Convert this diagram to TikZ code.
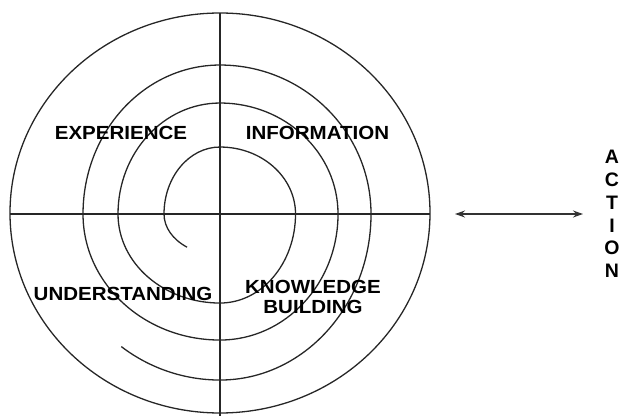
\documentclass[tikz,border=0pt]{standalone}
\usepackage{fontspec}
\setmainfont{Liberation Sans}
\usetikzlibrary{arrows.meta}
\begin{document}
\begin{tikzpicture}[x=1pt,y=1pt,
  ln/.style={draw=black!85, line width=1.3pt},
  lbl/.style={font=\fontsize{19}{20}\selectfont\bfseries, text=black, inner sep=0pt},
  dbl/.style={draw=black!80, line width=1.4pt, {Stealth[length=10pt,width=7pt]}-{Stealth[length=10pt,width=7pt]}}]
\useasboundingbox (-220,-201) rectangle (403,214);
% outer circle and axes
\draw[ln] (0,1) ellipse [x radius=210, y radius=200];
\coordinate (L) at (-210,0);
\coordinate (R) at (210,0);
\coordinate (T) at (0,201);
\coordinate (B) at (0,-205);
\draw[ln] (L) -- (R);
\draw[ln] (T) -- (B);
% spiral
\coordinate (s0) at (-32.9,-33.2);
\draw[ln] (s0)
  arc[start angle=234, end angle=180, x radius=56, y radius=41]
  arc[start angle=180, end angle=90, x radius=56, y radius=67]
  arc[start angle=90, end angle=0, x radius=75.5, y radius=67]
  arc[start angle=0, end angle=-90, x radius=75.5, y radius=89]
  arc[start angle=-90, end angle=-180, x radius=102, y radius=89]
  arc[start angle=180, end angle=90, x radius=102, y radius=111]
  arc[start angle=90, end angle=0, x radius=118, y radius=111]
  arc[start angle=0, end angle=-90, x radius=118, y radius=126]
  arc[start angle=-90, end angle=-180, x radius=137, y radius=126]
  arc[start angle=180, end angle=90, x radius=137, y radius=149]
  arc[start angle=90, end angle=0, x radius=151, y radius=149]
  arc[start angle=0, end angle=-90, x radius=151, y radius=166]
  arc[start angle=-90, end angle=-127, x radius=164, y radius=166];
% labels
\node[lbl] (exp) at (-99,81) {\scalebox{1.08}[1]{EXPERIENCE}};
\node[lbl] (inf) at (97.5,81) {\scalebox{1.08}[1]{INFORMATION}};
\node[lbl] (und) at (-97,-80) {\scalebox{1.08}[1]{UNDERSTANDING}};
\node[lbl, align=center] (kb) at (93,-83) {\scalebox{1.08}[1]{KNOWLEDGE}\\[0pt]\scalebox{1.08}[1]{BUILDING}};
\node[lbl, align=center, font=\fontsize{19.5}{22.7}\selectfont\bfseries] (act) at (392,0)
  {A\\C\\T\\I\\O\\N};
% arrow
\coordinate (a1) at (235,0);
\coordinate (a2) at (363,0);
\draw[dbl] (a1) -- (a2);
\end{tikzpicture}
\end{document}
